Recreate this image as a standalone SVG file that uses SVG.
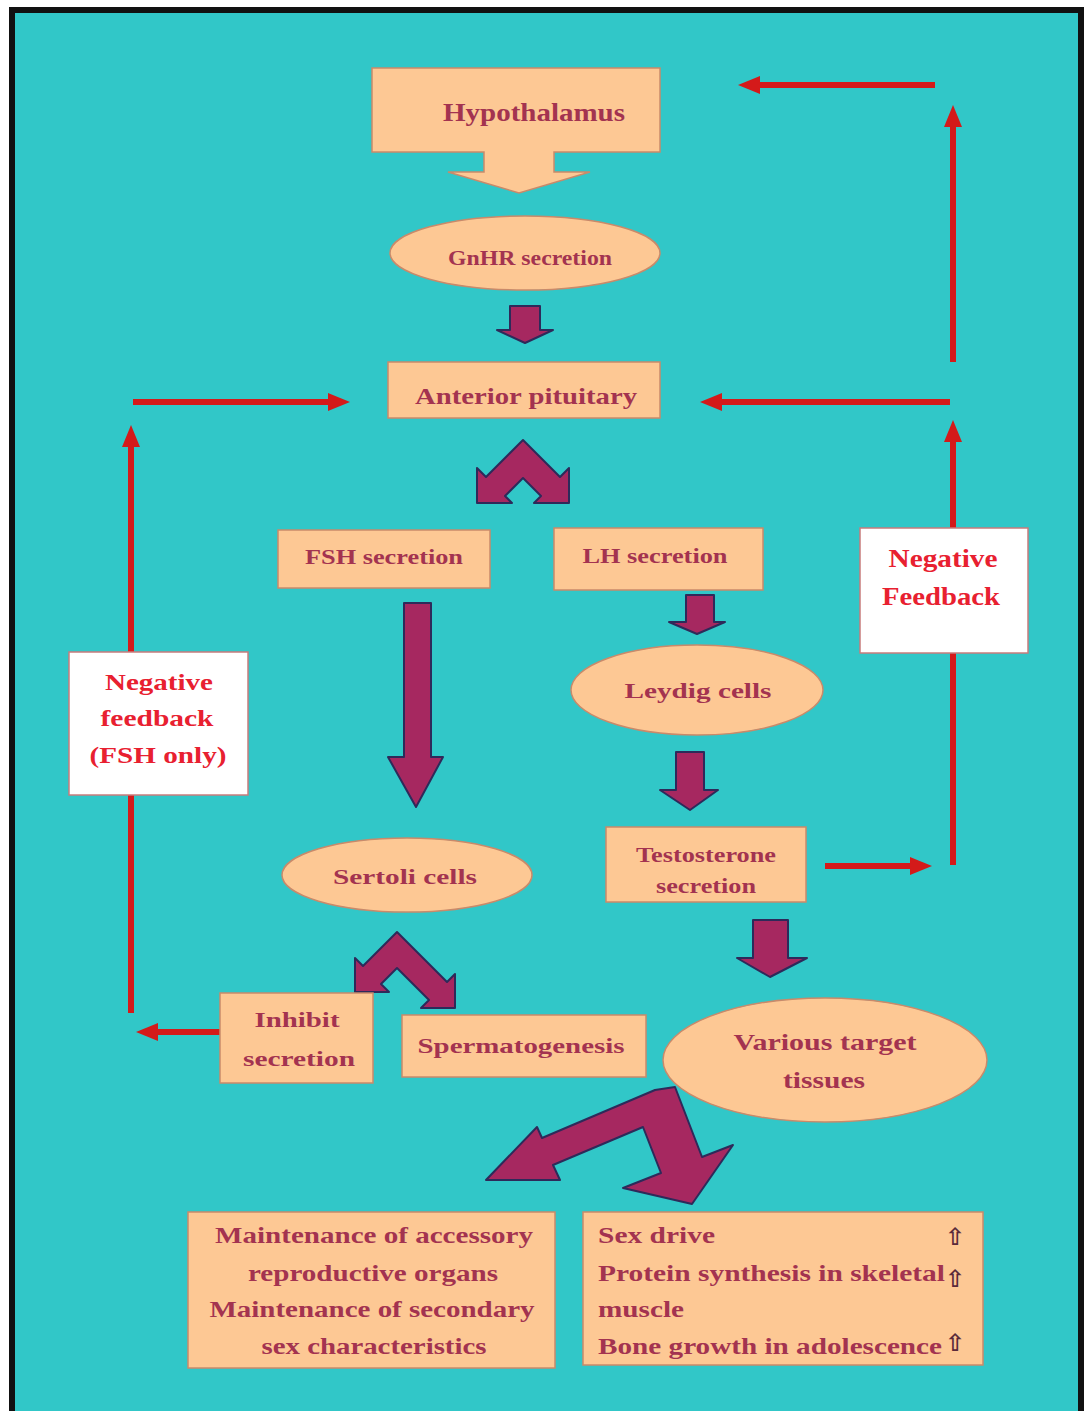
<svg xmlns="http://www.w3.org/2000/svg" width="1086" height="1411" viewBox="0 0 1086 1411">
<style>
.node{fill:#FDC894;stroke:#C98A6A;stroke-width:1.5}
.fb{fill:#FFFFFF;stroke:#C87C7C;stroke-width:1.5}
.t{font-family:"Liberation Serif","DejaVu Serif",serif;font-weight:bold;fill:#A33350;text-anchor:middle}
.s{text-anchor:start}
.tr{fill:#E82030}
.pa{fill:#A62860;stroke:#2E2A5A;stroke-width:2;stroke-linejoin:round}
.rl{stroke:#D41A1A;stroke-width:6;fill:none;marker-end:url(#rh)}
.up{font-family:"DejaVu Sans",sans-serif;font-weight:bold;font-size:24px;fill:#5A2A3A;text-anchor:middle}
</style>
<defs>
<marker id="rh" markerUnits="userSpaceOnUse" markerWidth="22" markerHeight="18" viewBox="0 0 22 18" refX="4" refY="9" orient="auto">
<path d="M0,0 L22,9 L0,18 z" fill="#D41A1A"/>
</marker>
</defs>
<rect x="0" y="0" width="1086" height="1411" fill="#FFFFFF"/>
<rect x="12" y="10" width="1069" height="1420" fill="#31C7C8" stroke="#111111" stroke-width="6"/>

<g id="connectors">
<line class="rl" x1="935" y1="85" x2="756" y2="85"/>
<line class="rl" x1="953" y1="362" x2="953" y2="123"/>
<line class="rl" x1="950" y1="402" x2="718" y2="402"/>
<line class="rl" x1="953" y1="865" x2="953" y2="438"/>
<line class="rl" x1="825" y1="866" x2="914" y2="866"/>
<line class="rl" x1="222" y1="1032" x2="154" y2="1032"/>
<line class="rl" x1="131" y1="1013" x2="131" y2="443"/>
<line class="rl" x1="133" y1="402" x2="332" y2="402"/>
<polygon class="pa" points="510,306 540,306 540,330 553,330 525,343 497,330 510,330"/>
<polygon class="pa" points="523,440 486,477 477,468 477,503 512,503 505,496 523,478 541,496 534,503 569,503 569,468 560,477"/>
<polygon class="pa" points="404,603 431,603 431,757 443,757 416,807 388,757 404,757"/>
<polygon class="pa" points="686,595 714,595 714,622 725,622 697,634 669,622 686,622"/>
<polygon class="pa" points="676,752 704,752 704,790 718,790 690,810 660,790 676,790"/>
<polygon class="pa" points="397,932 363,966 355,958 355,992 389,992 381,984 397,968 429,1000 421,1008 455,1008 455,974 447,982"/>
<polygon class="pa" points="753,920 788,920 788,958 807,958 770,977 737,958 753,958"/>
<polygon class="pa" points="675,1087 702,1157 733,1145 692,1204 623,1188 661,1173 643,1127 553,1165 560,1180 486,1180 537,1127 542,1138 655,1090"/>
</g>

<g id="hypothalamus">
<path class="node" d="M372,68 H660 V152 H554 V172 H590 L519,193 L448,172 H484 V152 H372 Z"/>
<text class="t" x="534" y="121" font-size="25" textLength="182" lengthAdjust="spacingAndGlyphs">Hypothalamus</text>
</g>
<g id="gnhr">
<ellipse class="node" cx="525" cy="253" rx="135" ry="37"/>
<text class="t" x="530" y="265" font-size="20" textLength="164" lengthAdjust="spacingAndGlyphs">GnHR secretion</text>
</g>
<g id="anterior-pituitary">
<rect class="node" x="388" y="362" width="272" height="56"/>
<text class="t" x="526" y="404" font-size="24" textLength="222" lengthAdjust="spacingAndGlyphs">Anterior pituitary</text>
</g>
<g id="fsh">
<rect class="node" x="278" y="530" width="212" height="58"/>
<text class="t" x="384" y="564" font-size="20" textLength="158" lengthAdjust="spacingAndGlyphs">FSH secretion</text>
</g>
<g id="lh">
<rect class="node" x="554" y="528" width="209" height="62"/>
<text class="t" x="655" y="563" font-size="20" textLength="145" lengthAdjust="spacingAndGlyphs">LH secretion</text>
</g>
<g id="negative-feedback-right">
<rect class="fb" x="860" y="528" width="168" height="125"/>
<text class="t tr" x="943" y="567" font-size="25" textLength="109" lengthAdjust="spacingAndGlyphs">Negative</text>
<text class="t tr" x="941" y="605" font-size="25" textLength="118" lengthAdjust="spacingAndGlyphs">Feedback</text>
</g>
<g id="negative-feedback-left">
<rect class="fb" x="69" y="652" width="179" height="143"/>
<text class="t tr" x="159" y="690" font-size="24" textLength="108" lengthAdjust="spacingAndGlyphs">Negative</text>
<text class="t tr" x="157" y="726" font-size="24" textLength="113" lengthAdjust="spacingAndGlyphs">feedback</text>
<text class="t tr" x="158" y="763" font-size="24" textLength="137" lengthAdjust="spacingAndGlyphs">(FSH only)</text>
</g>
<g id="leydig">
<ellipse class="node" cx="697" cy="690" rx="126" ry="45"/>
<text class="t" x="698" y="698" font-size="22" textLength="147" lengthAdjust="spacingAndGlyphs">Leydig cells</text>
</g>
<g id="testosterone">
<rect class="node" x="606" y="827" width="200" height="75"/>
<text class="t" x="706" y="862" font-size="20" textLength="140" lengthAdjust="spacingAndGlyphs">Testosterone</text>
<text class="t" x="706" y="893" font-size="20" textLength="100" lengthAdjust="spacingAndGlyphs">secretion</text>
</g>
<g id="sertoli">
<ellipse class="node" cx="407" cy="875" rx="125" ry="37"/>
<text class="t" x="405" y="884" font-size="22" textLength="144" lengthAdjust="spacingAndGlyphs">Sertoli cells</text>
</g>
<g id="inhibit">
<rect class="node" x="220" y="993" width="153" height="90"/>
<text class="t" x="297" y="1027" font-size="22" textLength="85" lengthAdjust="spacingAndGlyphs">Inhibit</text>
<text class="t" x="299" y="1066" font-size="22" textLength="112" lengthAdjust="spacingAndGlyphs">secretion</text>
</g>
<g id="spermatogenesis">
<rect class="node" x="402" y="1015" width="244" height="62"/>
<text class="t" x="521" y="1053" font-size="22" textLength="207" lengthAdjust="spacingAndGlyphs">Spermatogenesis</text>
</g>
<g id="various-target">
<ellipse class="node" cx="825" cy="1060" rx="162" ry="62"/>
<text class="t" x="825" y="1050" font-size="24" textLength="183" lengthAdjust="spacingAndGlyphs">Various target</text>
<text class="t" x="824" y="1088" font-size="24" textLength="82" lengthAdjust="spacingAndGlyphs">tissues</text>
</g>
<g id="maintenance">
<rect class="node" x="188" y="1212" width="367" height="156"/>
<text class="t" x="374" y="1243" font-size="23" textLength="318" lengthAdjust="spacingAndGlyphs">Maintenance of accessory</text>
<text class="t" x="373" y="1281" font-size="23" textLength="250" lengthAdjust="spacingAndGlyphs">reproductive organs</text>
<text class="t" x="372" y="1317" font-size="23" textLength="325" lengthAdjust="spacingAndGlyphs">Maintenance of secondary</text>
<text class="t" x="374" y="1354" font-size="23" textLength="225" lengthAdjust="spacingAndGlyphs">sex characteristics</text>
</g>
<g id="effects">
<rect class="node" x="583" y="1212" width="400" height="153"/>
<text class="t s" x="598" y="1243" font-size="23" textLength="117" lengthAdjust="spacingAndGlyphs">Sex drive</text>
<text class="t s" x="598" y="1281" font-size="23" textLength="347" lengthAdjust="spacingAndGlyphs">Protein synthesis in skeletal</text>
<text class="t s" x="598" y="1317" font-size="23" textLength="86" lengthAdjust="spacingAndGlyphs">muscle</text>
<text class="t s" x="598" y="1354" font-size="23" textLength="344" lengthAdjust="spacingAndGlyphs">Bone growth in adolescence</text>
<text class="up" x="955" y="1245">⇧</text>
<text class="up" x="955" y="1287">⇧</text>
<text class="up" x="955" y="1351">⇧</text>
</g>
</svg>
